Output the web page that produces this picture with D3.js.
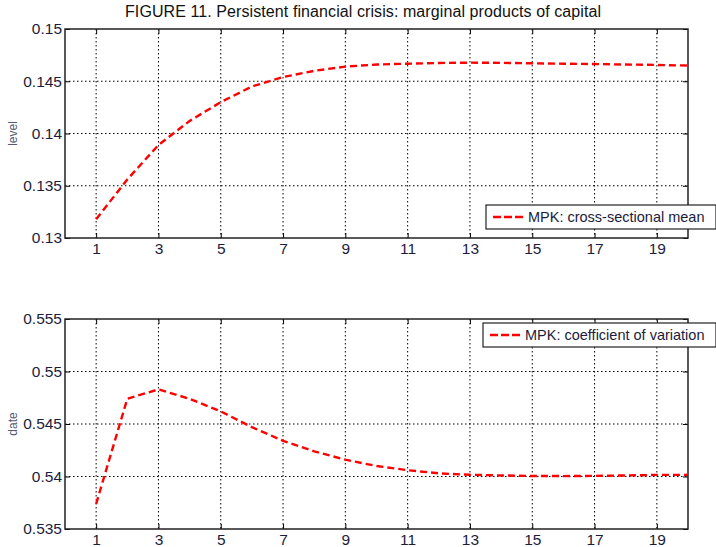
<!DOCTYPE html>
<html>
<head>
<meta charset="utf-8">
<script src="https://cdn.jsdelivr.net/npm/d3@7"></script>
<style>
  body { margin: 0; background: #fff; }
  svg text { font-family: "Liberation Sans", Arial, sans-serif; }
</style>
</head>
<body>
<svg width="716" height="547"></svg>
<script>
;(function (d3) {
  var svg = d3.select('svg')

  var periods = d3.range(1, 21)
  var xTicks = [1, 3, 5, 7, 9, 11, 13, 15, 17, 19]

  var mpkMean = [0.1318, 0.1356, 0.1389, 0.1412, 0.1430, 0.1445, 0.1454, 0.1460, 0.1464, 0.1466,
    0.14668, 0.14675, 0.14678, 0.14676, 0.14672, 0.14668, 0.14665, 0.14660, 0.14656, 0.14650]
  var mpkCv = [0.5374, 0.5474, 0.5483, 0.5474, 0.5462, 0.5447, 0.5434, 0.5424, 0.5416, 0.5410,
    0.5406, 0.5403, 0.54016, 0.5401, 0.54005, 0.54004, 0.54006, 0.5401, 0.54015, 0.54016]

  var topTicks = [0.13, 0.135, 0.14, 0.145, 0.15]
  var bottomTicks = [0.535, 0.54, 0.545, 0.55, 0.555]

  var left = 65
  var right = 688

  svg.append('text')
    .attr('x', 363)
    .attr('y', 17)
    .attr('text-anchor', 'middle')
    .style('font-size', '16px')
    .attr('textLength', 476)
    .style('fill', '#111')
    .text('FIGURE 11. Persistent financial crisis: marginal products of capital')

  function panel (opts) {
    var x = d3.scaleLinear().domain([0, 20]).range([left, right])
    var y = d3.scaleLinear().domain(opts.domain).range([opts.bottom, opts.top])
    var g = svg.append('g')

    // grid
    g.selectAll('.vg').data(xTicks).enter().append('line')
      .attr('x1', function (d) { return x(d) })
      .attr('x2', function (d) { return x(d) })
      .attr('y1', opts.top)
      .attr('y2', opts.bottom)
      .style('stroke', '#000')
      .style('stroke-width', 1)
      .style('stroke-dasharray', '1.5,2.5')
    g.selectAll('.hg').data(opts.ticks.slice(1, -1)).enter().append('line')
      .attr('x1', left)
      .attr('x2', right)
      .attr('y1', function (d) { return y(d) })
      .attr('y2', function (d) { return y(d) })
      .style('stroke', '#000')
      .style('stroke-width', 1)
      .style('stroke-dasharray', '1.5,2.5')

    // axes with inward ticks
    var fmt = function (d) { return String(+d.toFixed(3)) }
    g.append('g')
      .attr('transform', 'translate(0,' + opts.bottom + ')')
      .call(d3.axisBottom(x).tickValues(xTicks).tickSizeInner(-5).tickSizeOuter(0).tickPadding(5))
    g.append('g')
      .attr('transform', 'translate(0,' + opts.top + ')')
      .call(d3.axisTop(x).tickValues(xTicks).tickSizeInner(-5).tickSizeOuter(0).tickFormat(''))
    g.append('g')
      .attr('transform', 'translate(' + left + ',0)')
      .call(d3.axisLeft(y).tickValues(opts.ticks).tickSizeInner(-5).tickSizeOuter(0).tickPadding(3).tickFormat(fmt))
    g.append('g')
      .attr('transform', 'translate(' + right + ',0)')
      .call(d3.axisRight(y).tickValues(opts.ticks).tickSizeInner(-5).tickSizeOuter(0).tickFormat(''))
    g.selectAll('.domain').remove()
    g.selectAll('.tick line').style('stroke', '#000')
    g.selectAll('.tick text').style('font-size', '15.5px').style('fill', '#1c1c3c')

    g.append('rect')
      .attr('x', left)
      .attr('y', opts.top)
      .attr('width', right - left)
      .attr('height', opts.bottom - opts.top)
      .style('fill', 'none')
      .style('stroke', '#222')
      .style('stroke-width', 1.5)

    // series
    var ln = d3.line()
      .x(function (d, i) { return x(periods[i]) })
      .y(function (d) { return y(d) })
    g.append('path')
      .datum(opts.values)
      .attr('d', ln)
      .style('fill', 'none')
      .style('stroke', '#ff0000')
      .style('stroke-width', 2.4)
      .style('stroke-dasharray', '7,4')

    // y label
    g.append('text')
      .attr('transform', 'translate(17,' + ((opts.top + opts.bottom) / 2) + ') rotate(-90)')
      .attr('text-anchor', 'middle')
      .style('font-size', '12px')
      .style('fill', '#555a70')
      .text(opts.label)

    // legend
    var lg = g.append('g')
    lg.append('rect')
      .attr('x', opts.lx)
      .attr('y', opts.ly)
      .attr('width', opts.lw)
      .attr('height', 24)
      .style('fill', '#fff')
      .style('stroke', '#222')
      .style('stroke-width', 1.2)
    lg.append('line')
      .attr('x1', opts.lx + 7)
      .attr('x2', opts.lx + 38)
      .attr('y1', opts.ly + 12)
      .attr('y2', opts.ly + 12)
      .style('stroke', '#ff0000')
      .style('stroke-width', 2.4)
      .style('stroke-dasharray', '8,3')
    lg.append('text')
      .attr('x', opts.lx + 42)
      .attr('y', opts.ly + 17)
      .style('font-size', '14.5px')
      .style('fill', '#1c1c3c')
      .text(opts.legend)
  }

  panel({
    top: 29, bottom: 238, domain: [0.13, 0.15], ticks: topTicks,
    values: mpkMean, label: 'level', legend: 'MPK: cross-sectional mean',
    lx: 486, ly: 205, lw: 230
  })
  panel({
    top: 319, bottom: 529, domain: [0.535, 0.555], ticks: bottomTicks,
    values: mpkCv, label: 'date', legend: 'MPK: coefficient of variation',
    lx: 483, ly: 323, lw: 233
  })
})(window.d3)
</script>
</body>
</html>
